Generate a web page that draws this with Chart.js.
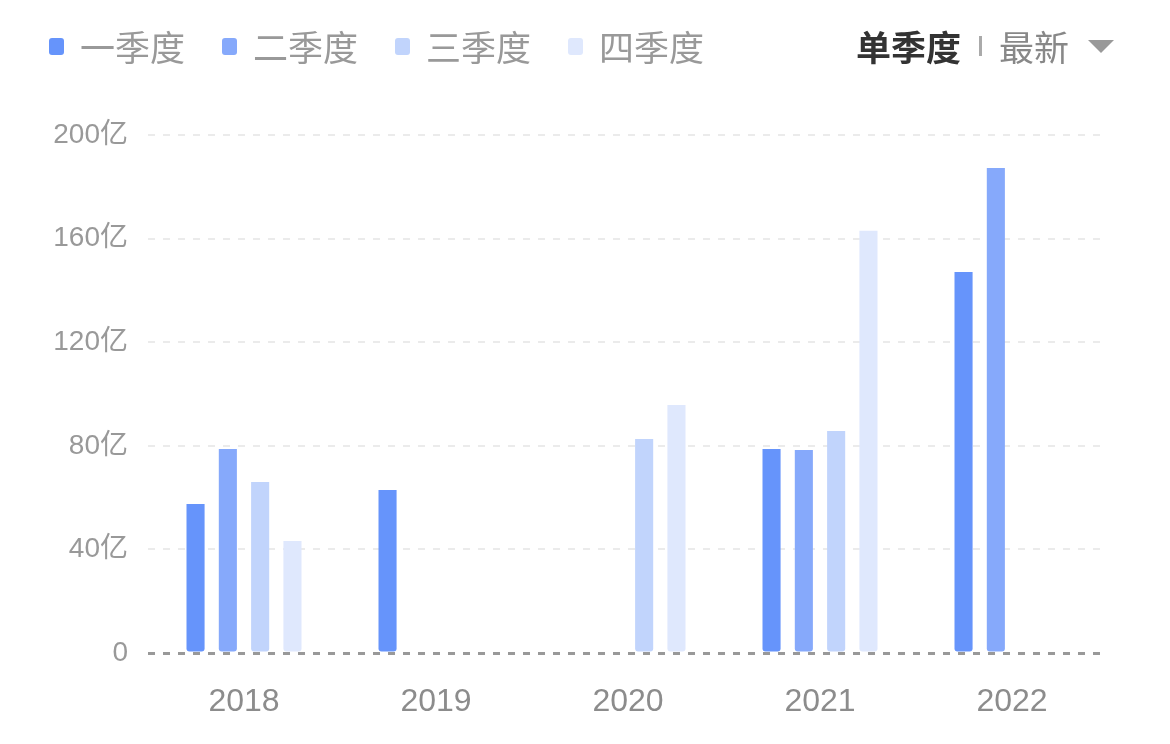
<!DOCTYPE html>
<html>
<head>
<meta charset="utf-8">
<script src="https://cdn.jsdelivr.net/npm/chart.js@4/dist/chart.umd.min.js"></script>
<style>
  body { margin: 0; background: #fff; }
  #wrap { position: relative; width: 1170px; height: 744px; }
  #legend, #header { position: absolute; top: 24px; height: 44px; display: flex; align-items: center;
    font-family: "Noto Sans CJK SC", sans-serif; font-size: 35px; line-height: 44px; }
  #legend { left: 49px; }
  #legend .item { display: flex; align-items: center; margin-right: 37px; color: #999; }
  #legend .box { width: 15px; height: 17px; border-radius: 3px; margin-right: 16px; }
  #header { left: 856px; }
  #header .sel { color: #333; font-weight: bold; }
  #header .sep { width: 3px; height: 20px; background: #aaa; margin: 0 17px 0 18px; }
  #header .latest { color: #888; }
  #header .tri { width: 0; height: 0; border-left: 13px solid transparent; border-right: 13px solid transparent;
    border-top: 13px solid #999; margin-left: 19px; }
</style>
</head>
<body>
<div id="wrap">
  <canvas id="chart" width="1170" height="744"></canvas>
  <div id="legend"></div>
  <div id="header"><span class="sel">单季度</span><span class="sep"></span><span class="latest">最新</span><span class="tri"></span></div>
</div>
<script>
const years = ["2018", "2019", "2020", "2021", "2022"];
const quarterNames = ["一季度", "二季度", "三季度", "四季度"];
const q1 = [57.5, 62.9, null, 78.8, 147.1];
const q2 = [78.8, null, null, 78.4, 187.3];
const q3 = [66, null, 82.6, 85.7, null];
const q4 = [43.2, null, 95.8, 163, null];
const colors = ["#6694fb", "#86a9fb", "#c1d4fc", "#dfe8fd"];

const series = [q1, q2, q3, q4];

const legendEl = document.getElementById("legend");
quarterNames.forEach((name, i) => {
  const item = document.createElement("div");
  item.className = "item";
  item.innerHTML = '<span class="box" style="background:' + colors[i] + '"></span>' + name;
  legendEl.appendChild(item);
});

const chartConfig = {
  type: "bar",
  data: {
    labels: years,
    datasets: series.map((values, i) => ({
      label: quarterNames[i],
      data: values,
      backgroundColor: colors[i],
      borderWidth: 0,
      borderSkipped: false,
      borderRadius: { topLeft: 0, topRight: 0, bottomLeft: 3, bottomRight: 3 },
      barPercentage: 0.56,
      categoryPercentage: 0.673,
    })),
  },
  options: {
    responsive: false,
    animation: false,
    layout: { padding: { top: 135, right: 62, bottom: 0, left: 0 } },
    plugins: {
      legend: { display: false },
      tooltip: { enabled: false },
    },
    scales: {
      x: {
        grid: { display: false },
        border: { display: false },
        ticks: {
          color: "#8c8c8c",
          padding: 22,
          font: { family: "'Liberation Sans', 'Noto Sans CJK SC'", size: 32 },
        },
        afterFit: (scale) => { scale.height = 91; },
      },
      y: {
        min: 0,
        max: 200,
        border: { display: false, dash: [7, 8] },
        grid: {
          drawTicks: false,
          color: (ctx) => (ctx.tick && ctx.tick.value === 0 ? "#999" : "#ebebeb"),
          lineWidth: (ctx) => (ctx.tick && ctx.tick.value === 0 ? 3 : 2),
        },
        ticks: {
          stepSize: 40,
          color: "#999",
          padding: 20,
          font: { family: "'Liberation Sans', 'Noto Sans CJK SC'", size: 28 },
          callback: (value) => (value === 0 ? "0" : value + "亿"),
        },
        afterFit: (scale) => { scale.width = 148; },
      },
    },
  },
};

new Chart(document.getElementById("chart"), chartConfig);
</script>
</body>
</html>
